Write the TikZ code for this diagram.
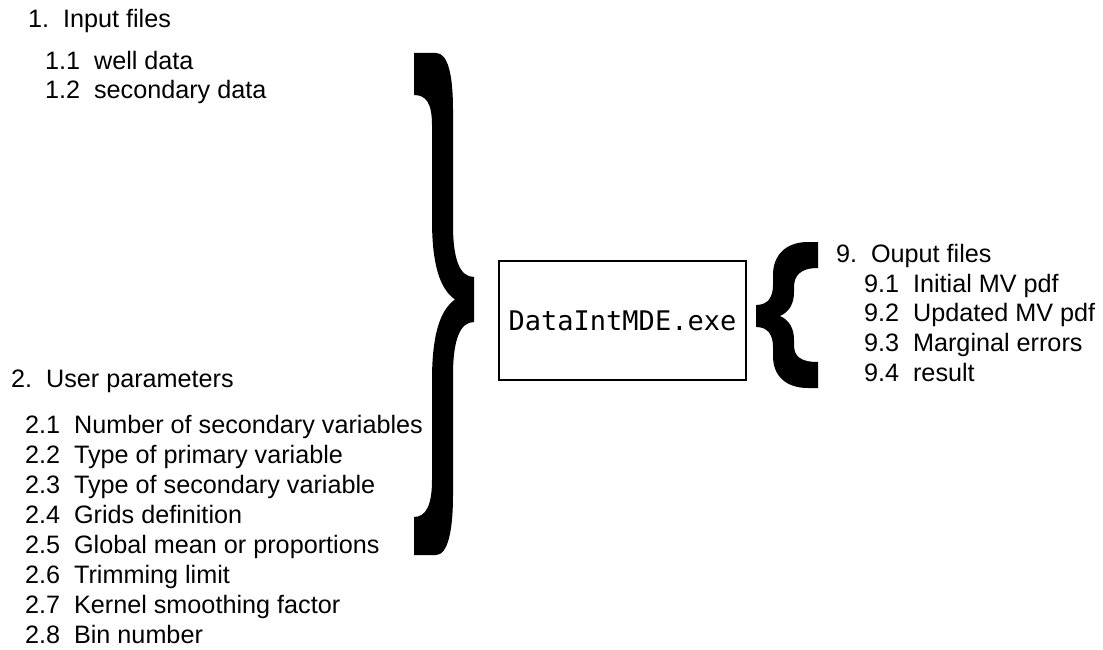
\documentclass[tikz,border=0pt]{standalone}
\usepackage{fontspec}
\setmainfont{Liberation Sans}
\newfontfamily\monofont{DejaVu Sans Mono}
\newcommand{\gp}{\hspace{0.55em}}
\begin{document}
\begin{tikzpicture}[x=1pt,y=-1pt,
  item/.style={anchor=base west,inner sep=0pt,font=\fontsize{25.2}{30}\selectfont},
  exebox/.style={draw,line width=1.5pt,minimum width=247pt,minimum height=119pt,inner sep=0pt,font=\monofont\fontsize{27}{30}\selectfont},
  bracefill/.style={fill=black,draw=none}]
\useasboundingbox (0,0) rectangle (1103,650);
% left texts
\node[item] (in)  at (28,28)  {1.\gp Input files};
\node[item] (in1) at (45,70)  {1.1\gp well data};
\node[item] (in2) at (45,99)  {1.2\gp secondary data};
\node[item] (up)  at (11,387) {2.\gp User parameters};
\node[item] (p1) at (25,433) {2.1\gp Number of secondary variables};
\node[item] (p2) at (25,463) {2.2\gp Type of primary variable};
\node[item] (p3) at (25,493) {2.3\gp Type of secondary variable};
\node[item] (p4) at (25,523) {2.4\gp Grids definition};
\node[item] (p5) at (25,553) {2.5\gp Global mean or proportions};
\node[item] (p6) at (25,583) {2.6\gp Trimming limit};
\node[item] (p7) at (25,613) {2.7\gp Kernel smoothing factor};
\node[item] (p8) at (25,643) {2.8\gp Bin number};
% box
\node[exebox] (exe) at (622.5,320.5) {DataIntMDE.exe};
% output texts
\node[item] (out)  at (836,262) {9.\gp Ouput files};
\node[item] (o1) at (864,292) {9.1\gp Initial MV pdf};
\node[item] (o2) at (864,321) {9.2\gp Updated MV pdf};
\node[item] (o3) at (864,351) {9.3\gp Marginal errors};
\node[item] (o4) at (864,381) {9.4\gp result};
% big closing brace
\fill[bracefill] (414,53) -- (436,53) .. controls (448,53) and (453,75) .. (453,110)
  -- (453,225) .. controls (453,260) and (460,277) .. (474,277)
  -- (474,322) .. controls (460,322) and (453,340) .. (453,375)
  -- (453,495) .. controls (453,530) and (448,555) .. (436,555)
  -- (414,555) -- (414,517) .. controls (426,517) and (432,505) .. (432,480)
  -- (432,380) .. controls (432,335) and (440,310) .. (455,299.5)
  .. controls (440,289) and (432,265) .. (432,220)
  -- (432,125) .. controls (432,103) and (426,95) .. (414,95) -- cycle;
% small opening brace
\fill[bracefill] (818,242) -- (808,242) .. controls (786,242) and (773,255) .. (773,275)
  -- (773,285) .. controls (773,297) and (768,305) .. (756,305)
  -- (756,327) .. controls (768,327) and (773,335) .. (773,347)
  -- (773,356) .. controls (773,376) and (786,388) .. (808,388)
  -- (818,388) -- (818,362) .. controls (800,362) and (794,356) .. (794,345)
  -- (794,340) .. controls (794,328) and (789,320) .. (780,316)
  .. controls (789,312) and (794,304) .. (794,292)
  -- (794,287) .. controls (794,276) and (800,268) .. (818,268) -- cycle;
\end{tikzpicture}
\end{document}
